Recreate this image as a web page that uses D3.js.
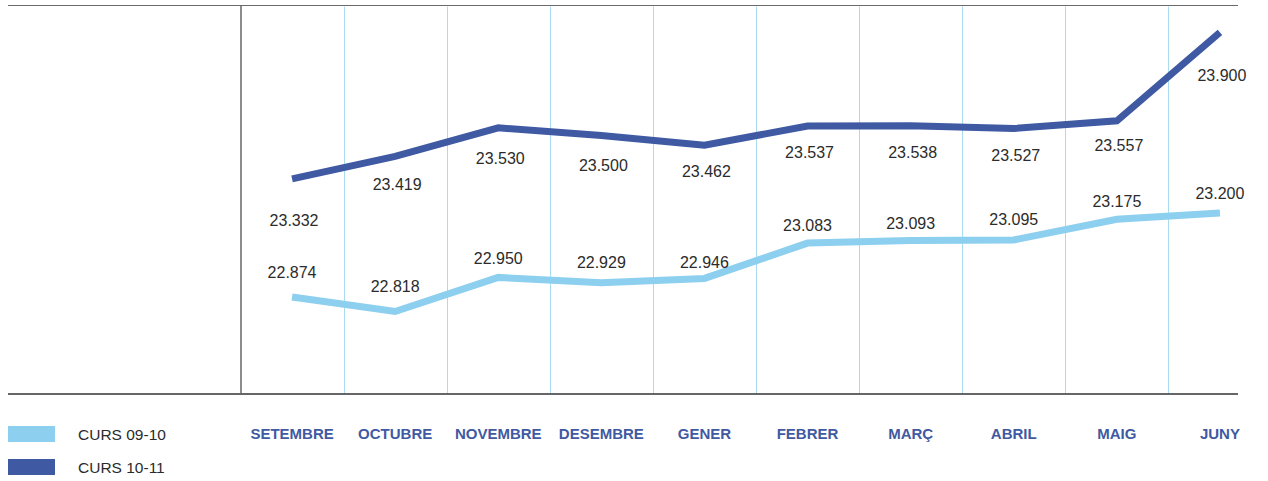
<!DOCTYPE html>
<html>
<head>
<meta charset="utf-8">
<script src="https://cdn.jsdelivr.net/npm/d3@7"></script>
<style>
  body { margin: 0; background: #fff; }
  svg { display: block; font-family: "Liberation Sans", Arial, sans-serif; }
  .val { font-size: 16px; fill: #2b2b2b; }
  .month { font-size: 15px; font-weight: bold; fill: #3f5aa2; }
  .leg { font-size: 15.5px; fill: #2b2b2b; }
</style>
</head>
<body>
<svg></svg>
<script>
var width = 1268;
var height = 481;

var months = ["SETEMBRE", "OCTUBRE", "NOVEMBRE", "DESEMBRE", "GENER", "FEBRER", "MARÇ", "ABRIL", "MAIG", "JUNY"];
var curs0910 = [22874, 22818, 22950, 22929, 22946, 23083, 23093, 23095, 23175, 23200];
var curs1011 = [23332, 23419, 23530, 23500, 23462, 23537, 23538, 23527, 23557, 23900];
var seriesNames = ["CURS 09-10", "CURS 10-11"];

// label offsets (px from the point), just layout
var dyLight = [-25, -25, -19, -20, -16, -18, -17, -20, -18, -19];
var dyDark = [42, 28, 31, 30, 26, 27, 27, 27, 25, 43];

var lightBlue = "#8dcfee", darkBlue = "#3f5aa3";

var svg = d3.select("svg")
    .attr("width", width)
    .attr("height", height);

var x = d3.scaleBand()
    .domain(months)
    .range([240.5, 1271.5]);

var y = d3.scaleLinear()
    .domain([22500, 24000])
    .range([393.5, 6.5]);

var fmt = function(v) { return d3.format(",")(v).replace(",", "."); };

// vertical gridlines at band edges
svg.append("g")
    .selectAll("line")
    .data(months.slice(1))
    .enter()
    .append("line")
    .attr("x1", function(d) { return Math.round(x(d)) + 0.5; })
    .attr("x2", function(d) { return Math.round(x(d)) + 0.5; })
    .attr("y1", y(24000))
    .attr("y2", y(22500))
    .attr("stroke", "#a9dcf1")
    .attr("stroke-width", 1);

// frame lines
svg.append("line")
    .attr("x1", 8).attr("x2", 1238)
    .attr("y1", 5.5).attr("y2", 5.5)
    .attr("stroke", "#6b6b6b").attr("stroke-width", 1);
svg.append("line")
    .attr("x1", 8).attr("x2", 1238)
    .attr("y1", 394).attr("y2", 394)
    .attr("stroke", "#333").attr("stroke-width", 1.3);
svg.append("line")
    .attr("x1", 241).attr("x2", 241)
    .attr("y1", 5).attr("y2", 394)
    .attr("stroke", "#666").attr("stroke-width", 1.5);

var cx = function(d, i) { return x(months[i]) + x.bandwidth() / 2; };

var line = d3.line()
    .x(cx)
    .y(function(d) { return y(d); });

svg.append("path")
    .datum(curs0910)
    .attr("d", line)
    .attr("fill", "none")
    .attr("stroke", lightBlue)
    .attr("stroke-width", 7);

svg.append("path")
    .datum(curs1011)
    .attr("d", line)
    .attr("fill", "none")
    .attr("stroke", darkBlue)
    .attr("stroke-width", 7);

// value labels
svg.append("g")
    .selectAll("text")
    .data(curs0910)
    .enter()
    .append("text")
    .attr("class", "val")
    .attr("x", cx)
    .attr("y", function(d, i) { return y(d) + dyLight[i]; })
    .attr("text-anchor", "middle")
    .attr("dominant-baseline", "central")
    .text(fmt);

svg.append("g")
    .selectAll("text")
    .data(curs1011)
    .enter()
    .append("text")
    .attr("class", "val")
    .attr("x", function(d, i) { return cx(d, i) + 2; })
    .attr("y", function(d, i) { return y(d) + dyDark[i]; })
    .attr("text-anchor", "middle")
    .attr("dominant-baseline", "central")
    .text(fmt);

// month labels
svg.append("g")
    .selectAll("text")
    .data(months)
    .enter()
    .append("text")
    .attr("class", "month")
    .attr("x", function(d) { return x(d) + x.bandwidth() / 2; })
    .attr("y", 433)
    .attr("text-anchor", "middle")
    .attr("dominant-baseline", "central")
    .text(function(d) { return d; });

// legend
var legend = svg.selectAll("g.legend")
    .data(seriesNames)
    .enter()
    .append("g")
    .attr("class", "legend")
    .attr("transform", function(d, i) { return "translate(8," + (426 + i * 33) + ")"; });

legend.append("rect")
    .attr("width", 47)
    .attr("height", 16)
    .attr("fill", function(d, i) { return i === 0 ? lightBlue : darkBlue; });

legend.append("text")
    .attr("class", "leg")
    .attr("x", 70)
    .attr("y", 8)
    .attr("dominant-baseline", "central")
    .text(function(d) { return d; });
</script>
</body>
</html>
